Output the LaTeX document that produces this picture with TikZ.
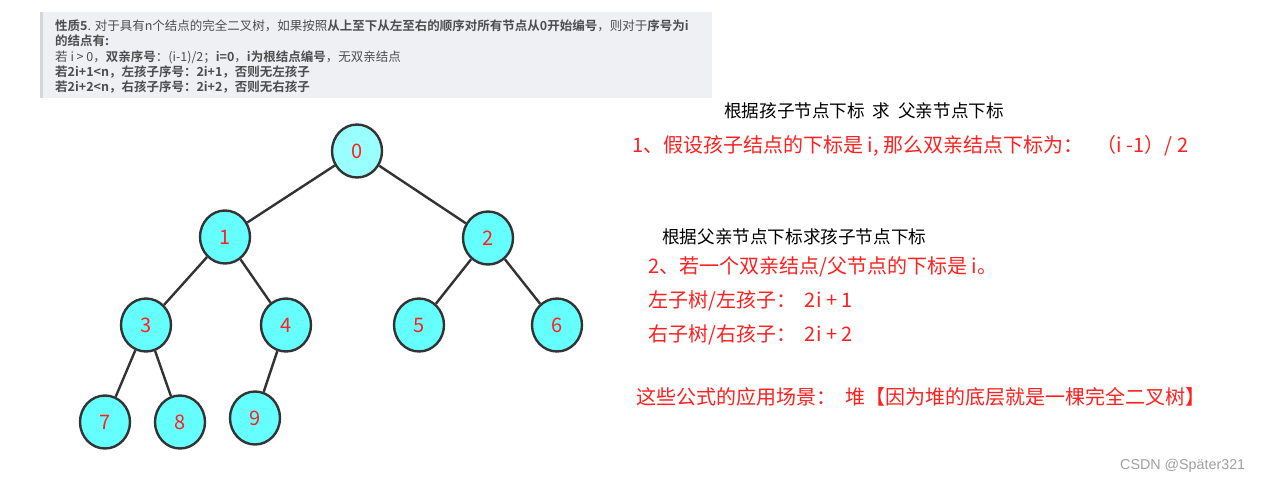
\documentclass[tikz,border=0pt]{standalone}
\usepackage{fontspec}
\usetikzlibrary{shapes.geometric}
\newfontfamily\cjk{Noto Sans CJK SC}[BoldFont={Noto Sans CJK SC Bold}]
\definecolor{boxgray}{HTML}{EEF0F4}
\definecolor{boxedge}{HTML}{D3D6DC}
\definecolor{boxtext}{HTML}{4D4D4D}
\definecolor{cyanfill}{HTML}{66FFFF}
\definecolor{rootfill}{HTML}{99FFFF}
\definecolor{edgegray}{HTML}{333333}
\definecolor{redtext}{HTML}{FF2020}
\definecolor{marktext}{HTML}{A0A0A0}
\tikzset{
  tnode/.style={ellipse, draw=edgegray, line width=2.4pt, fill=cyanfill,
    minimum width=50pt, minimum height=53pt, inner sep=0pt,
    font=\cjk\fontsize{20}{20}\selectfont, text=redtext},
  tedge/.style={draw=edgegray, line width=2.4pt},
  boxline/.style={anchor=west, inner sep=0pt, font=\cjk\fontsize{12.5}{13}\selectfont, text=boxtext},
  headtext/.style={anchor=west, inner sep=0pt, font=\cjk\fontsize{17.6}{18}\selectfont, text=black},
  redline/.style={anchor=west, inner sep=0pt, font=\cjk\fontsize{20}{21}\selectfont, text=redtext},
}
\begin{document}
\begin{tikzpicture}[x=1pt,y=-1pt]
\useasboundingbox (0,0) rectangle (1261,482);
\fill[white] (0,0) rectangle (1261,482);
% top gray box
\fill[boxgray] (40,12) rectangle (712,98);
\fill[boxedge] (40,12) rectangle (43,98);
\node[boxline] (l1) at (55,26) {\textbf{性质5}. 对于具有n个结点的完全二叉树，如果按照\textbf{从上至下从左至右的顺序对所有节点从0开始编号}，则对于\textbf{序号为i}};
\node[boxline] (l2) at (55,41) {\textbf{的结点有:}};
\node[boxline] (l3) at (55,57) {若 i > 0，\textbf{双亲序号}：(i-1)/2；\textbf{i=0}，\textbf{i为根结点编号}，无双亲结点};
\node[boxline] (l4) at (55,72) {\textbf{若2i+1<n，左孩子序号：2i+1，否则无左孩子}};
\node[boxline] (l5) at (55,87) {\textbf{若2i+2<n，右孩子序号：2i+2，否则无右孩子}};
% tree
\node[tnode, fill=rootfill] (n0) at (357,151) {0};
\node[tnode] (n1) at (225,237) {1};
\node[tnode] (n2) at (488,238) {2};
\node[tnode] (n3) at (146,325) {3};
\node[tnode] (n4) at (286,325) {4};
\node[tnode] (n5) at (419,325) {5};
\node[tnode] (n6) at (557,325) {6};
\node[tnode] (n7) at (105,422) {7};
\node[tnode] (n8) at (180,422) {8};
\node[tnode] (n9) at (255,418) {9};
\draw[tedge] (n0) -- (n1);
\draw[tedge] (n0) -- (n2);
\draw[tedge] (n1) -- (n3);
\draw[tedge] (n1) -- (n4);
\draw[tedge] (n2) -- (n5);
\draw[tedge] (n2) -- (n6);
\draw[tedge] (n3) -- (n7);
\draw[tedge] (n3) -- (n8);
\draw[tedge] (n4) -- (n9);
% right texts
\node[headtext] (h1) at (724,111) {根据孩子节点下标\ \ 求\ \ 父亲节点下标};
\node[redline] (r1) at (632,146) {1、假设孩子结点的下标是 i, 那么双亲结点下标为：\ \ \ （i -1）/ 2};
\node[headtext] (h2) at (662,237) {根据父亲节点下标求孩子节点下标};
\node[redline] (r2) at (648,267) {2、若一个双亲结点/父节点的下标是 i。};
\node[redline] (r3) at (648,301) {左子树/左孩子：\ \ 2i + 1};
\node[redline] (r4) at (648,335) {右子树/右孩子：\ \ 2i + 2};
\node[redline] (r5) at (636,397) {这些公式的应用场景：\ \ 堆【因为堆的底层就是一棵完全二叉树】};
\node[anchor=west, inner sep=0pt, font=\fontspec{Liberation Sans}\fontsize{14.3}{15}\selectfont, text=marktext] (wm) at (1120,466) {CSDN @Später321};
\end{tikzpicture}
\end{document}
